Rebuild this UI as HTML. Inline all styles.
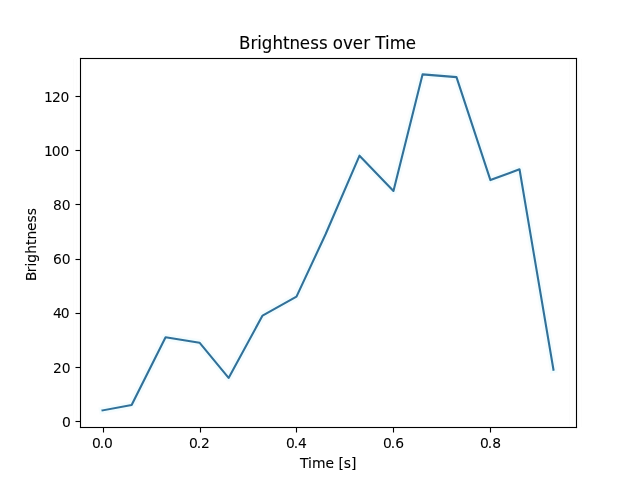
<!DOCTYPE html>
<html lang="en">
<head>
<meta charset="utf-8">
<title>Brightness over Time</title>
<style>
html,body{margin:0;padding:0;background:#fff;width:640px;height:480px;overflow:hidden}
svg{display:block;position:absolute;left:0;top:0}
svg text{font-family:"DejaVu Sans","Liberation Sans",sans-serif;fill:#000;white-space:pre}
.tk{font-size:13.889px}
.ttl{font-size:16.667px}
</style>
</head>
<body>
<svg width="640" height="480" viewBox="0 0 640 480">
<rect x="0" y="0" width="640" height="480" fill="#ffffff"/>
<polyline points="102.545,410.400 131.636,404.981 165.576,337.239 199.515,342.658 228.606,377.884 262.545,315.561 296.485,296.594 325.576,234.271 359.515,155.690 393.455,190.916 422.545,74.400 456.485,77.110 490.424,180.077 519.515,169.239 553.455,369.755" fill="none" stroke="#f9fcfd" stroke-width="7.500" stroke-linejoin="round" stroke-linecap="square"/>
<polyline points="102.545,410.400 131.636,404.981 165.576,337.239 199.515,342.658 228.606,377.884 262.545,315.561 296.485,296.594 325.576,234.271 359.515,155.690 393.455,190.916 422.545,74.400 456.485,77.110 490.424,180.077 519.515,169.239 553.455,369.755" fill="none" stroke="#f0fdff" stroke-width="5.500" stroke-linejoin="round" stroke-linecap="square"/>
<polyline points="102.545,410.400 131.636,404.981 165.576,337.239 199.515,342.658 228.606,377.884 262.545,315.561 296.485,296.594 325.576,234.271 359.515,155.690 393.455,190.916 422.545,74.400 456.485,77.110 490.424,180.077 519.515,169.239 553.455,369.755" fill="none" stroke="#337098" stroke-width="2.083" stroke-linejoin="round" stroke-linecap="square"/>
<g fill="#fcfcfc"><rect x="73" y="59" width="1" height="368"/><rect x="82" y="59" width="1" height="368"/><rect x="569" y="59" width="1" height="368"/><rect x="578" y="59" width="1" height="368"/></g>
<g fill="#fdfdfd"><rect x="76" y="59" width="1" height="368"/><rect x="85" y="59" width="1" height="368"/><rect x="572" y="59" width="1" height="368"/><rect x="581" y="59" width="1" height="368"/></g>
<g fill="#000">
<rect x="79.945" y="57.944" width="1.111" height="370.111"/><rect x="575.944" y="57.944" width="1.111" height="370.111"/><rect x="79.945" y="57.944" width="497.111" height="1.111"/><rect x="79.945" y="426.945" width="497.111" height="1.111"/>
<rect x="102.945" y="427.5" width="1.111" height="5"/><text class="tk" transform="translate(0 447.976) scale(1 1.04)" x="91.983 99.733 104.108" stroke="#000" stroke-width="0.075">0.0</text>
<rect x="199.945" y="427.5" width="1.111" height="5"/><text class="tk" transform="translate(0 447.976) scale(1 0.98)" x="188.953 196.703 201.078" stroke="#000" stroke-width="0.05">0.2</text>
<rect x="295.945" y="427.5" width="1.111" height="5"/><text class="tk" transform="translate(0 447.976) scale(1 1.04)" x="285.922 293.672 298.047" stroke="#000" stroke-width="0.075">0.4</text>
<rect x="392.945" y="427.5" width="1.111" height="5"/><text class="tk" transform="translate(0 447.976) scale(1 1.04)" x="382.955 390.705 395.33" stroke="#000" stroke-width="0.05">0.6</text>
<rect x="489.945" y="427.5" width="1.111" height="5"/><text class="tk" transform="translate(0 447.976) scale(1 0.98)" x="479.924 487.674 492.299" stroke="#000" stroke-width="0.05">0.8</text>
<rect x="75.5" y="420.945" width="5" height="1.111"/><text class="tk" transform="translate(0 426.515) scale(1 0.98)" x="62.028" stroke="#000" stroke-width="0.1">0</text>
<rect x="75.5" y="366.945" width="5" height="1.111"/><text class="tk" transform="translate(0 372.822) scale(1 0.98)" x="52.903 61.653" stroke="#000" stroke-width="0.05">20</text>
<rect x="75.5" y="312.945" width="5" height="1.111"/><text class="tk" transform="translate(0 317.628) scale(1 1.04)" x="53.028 60.778" stroke="#000" stroke-width="0.05">40</text>
<rect x="75.5" y="258.945" width="5" height="1.111"/><text class="tk" transform="translate(0 263.935) scale(1 1.01)" x="52.965 61.778" stroke="#000" stroke-width="0.05">60</text>
<rect x="75.5" y="203.945" width="5" height="1.111"/><text class="tk" transform="translate(0 209.741) scale(1 0.96)" x="52.903 61.778" stroke="#000" stroke-width="0.025">80</text>
<rect x="75.5" y="149.945" width="5" height="1.111"/><text class="tk" transform="translate(0 155.548) scale(1 1.02)" x="43.903 51.778 60.528" stroke="#000" stroke-width="0.05">100</text>
<rect x="75.5" y="95.945" width="5" height="1.111"/><text class="tk" transform="translate(0 101.854) scale(1 1.05)" x="43.903 52.028 60.528" stroke="#000" stroke-width="0.05">120</text>
</g>
<text class="tk" transform="translate(0 467.973) scale(1 1.02)" x="300.125 308 312.125 325.625 334.125 338.5 343.75 351.125" stroke="#000" stroke-width="0.1">Time [s]</text>
<text class="tk" transform="translate(35.823 242.4) rotate(-90) scale(1 0.96)" x="-38.688 -29.812 -24.062 -20.438 -11.312 -2.562 2.938 11.438 19.938 27.062" stroke="#000" stroke-width="0.1">Brightness</text>
<text class="ttl" transform="translate(0 48.767) scale(1 1.11)" x="238.938 250.438 257.188 261.812 272.438 282.938 289.438 299.812 310.188 318.938 327.562 332.812 342.938 352.812 363.188 369.938 375.188 384.938 389.688 405.812" stroke="#000" stroke-width="0.1">Brightness over Time</text>
</svg>
</body>
</html>
